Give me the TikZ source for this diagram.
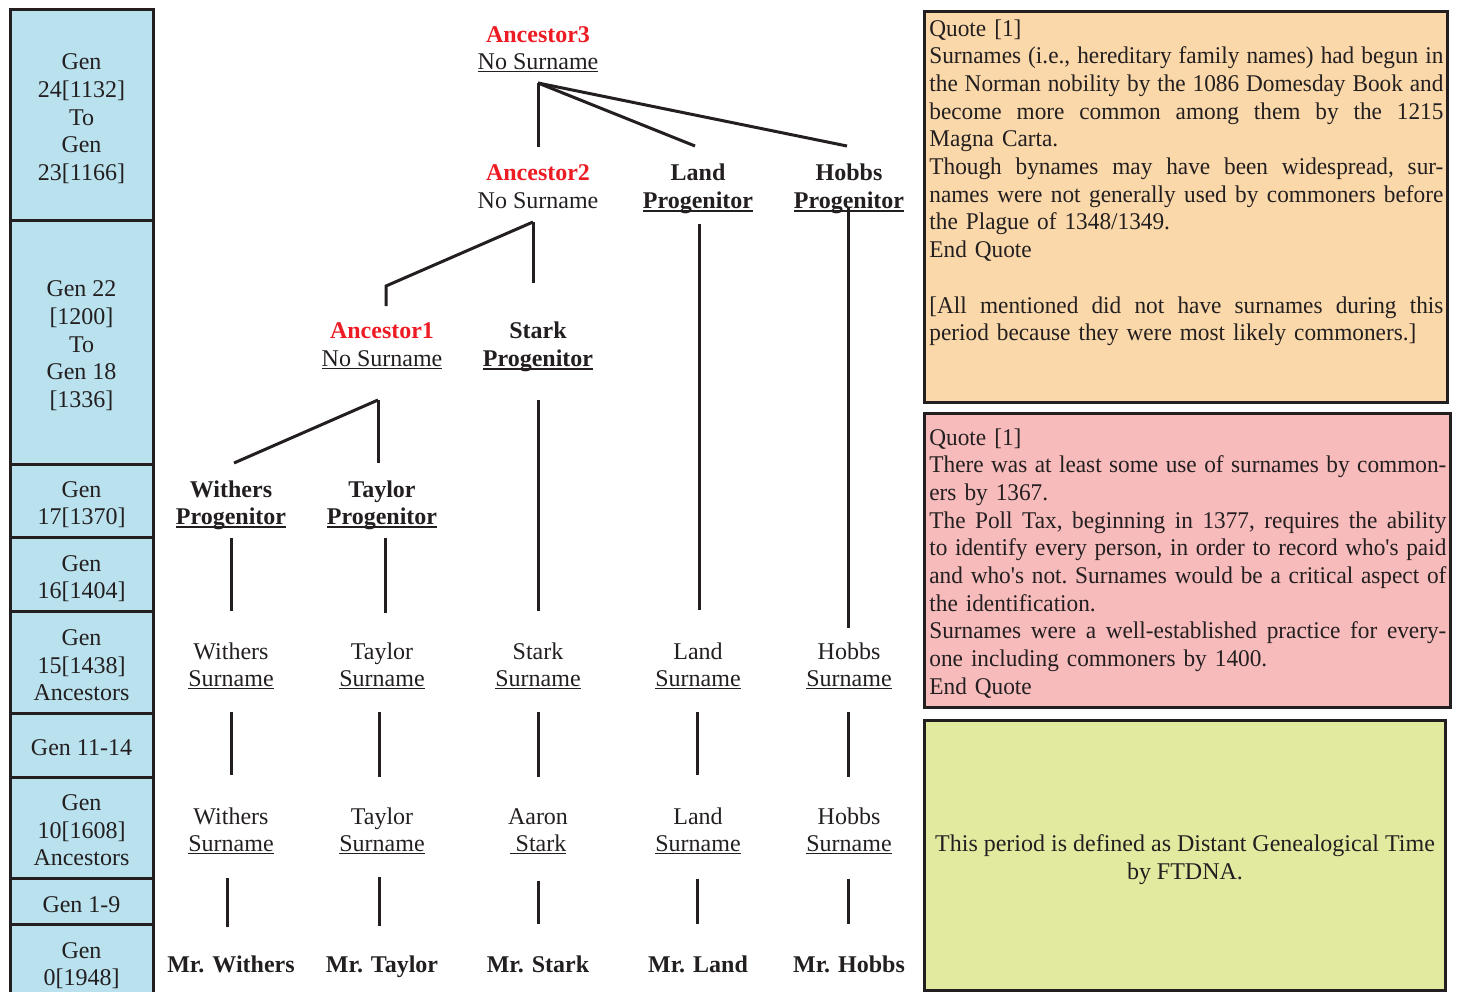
\documentclass[tikz,border=0pt]{standalone}
\usepackage{fontspec}
\setmainfont{Liberation Serif}
\newfontfamily\qfont[FakeStretch=0.97,Ligatures=TeXOff]{Liberation Serif}
\definecolor{gencol}{HTML}{B9E2EE}
\definecolor{orcol}{HTML}{FAD8A9}
\definecolor{pkcol}{HTML}{F7BBBB}
\definecolor{grcol}{HTML}{E2EAA0}
\definecolor{txt}{HTML}{231F20}
\definecolor{ancred}{HTML}{ED1C24}
\newcommand\fs{\fontsize{12}{13.85}\selectfont}
\newcommand\jl[1]{{\frenchspacing\spaceskip=0pt\xspaceskip=0pt\makebox[\hsize][s]{#1}}}
\newcommand\anc[1]{{\color{ancred}\bfseries #1}}
\newcommand\ul[1]{\setbox0=\hbox{#1}\rlap{\rule[-1.2pt]{\wd0}{0.6pt}}\box0}
\newcommand\ulb[1]{\setbox0=\hbox{\bfseries #1}\rlap{\rule[-1.6pt]{\wd0}{0.85pt}}\box0}
\newcommand\two[2]{\strut #1\\\strut #2}
\begin{document}
\begin{tikzpicture}[x=0.5pt,y=-0.5pt,
  lbl/.style={align=center, inner sep=0pt, font=\fs, text=txt},
  genlbl/.style={align=center, inner sep=0pt, font=\fs, text=txt},
  quote/.style={align=left, inner sep=0pt, font=\fs\qfont, text=txt, anchor=base west},
  border/.style={draw=txt, line width=1.5pt},
  conn/.style={draw=txt, line width=1.5pt}]
\useasboundingbox (0,0) rectangle (1457,992);

% ---- generation column
\fill[gencol] (10,9) rectangle (153,992);
\draw[border] (10,992) -- (10,9) -- (153,9) -- (153,992);
\foreach \yy in {220,464,537,611,713,777,878,924}
  \draw[border] (10,\yy) -- (153,\yy);
\node[genlbl] (g1) at (81.5,119.5) {\strut Gen\\\strut 24[1132]\\\strut To\\\strut Gen\\\strut 23[1166]};
\node[genlbl] (g2) at (81.5,346.5) {\strut Gen 22\\\strut{[1200]}\\\strut To\\\strut Gen 18\\\strut{[1336]}};
\node[genlbl] (g3) at (81.5,505.5) {\two{Gen}{17[1370]}};
\node[genlbl] (g4) at (81.5,579.5) {\two{Gen}{16[1404]}};
\node[genlbl] (g5) at (81.5,667.5) {\strut Gen\\\strut 15[1438]\\\strut Ancestors};
\node[genlbl] (g6) at (81.5,749.5) {\strut Gen 11-14};
\node[genlbl] (g7) at (81.5,832.5) {\strut Gen\\\strut 10[1608]\\\strut Ancestors};
\node[genlbl] (g8) at (81.5,906.5) {\strut Gen 1-9};
\node[genlbl] (g9) at (81.5,966.5) {\two{Gen}{0[1948]}};

% ---- quote boxes
\draw[border, fill=orcol] (924,11) rectangle (1447,402);
\node[quote, text width=257pt] (q1) at (929,36) {Quote [1]\\
\jl{Surnames (i.e., hereditary family names) had begun in}\\
\jl{the Norman nobility by the 1086 Domesday Book and}\\
\jl{become more common among them by the 1215}\\
Magna Carta.\\
\jl{Though bynames may have been widespread, sur-}\\
\jl{names were not generally used by commoners before}\\
the Plague of 1348/1349.\\
End Quote\\[13.85pt]
\jl{[All mentioned did not have surnames during this}\\
period because they were most likely commoners.]};

\draw[border, fill=pkcol] (924,413) rectangle (1450,707);
\node[quote, text width=258.5pt] (q2) at (929,445) {Quote [1]\\
\jl{There was at least some use of surnames by common-}\\
ers by 1367.\\
\jl{The Poll Tax, beginning in 1377, requires the ability}\\
\jl{to identify every person, in order to record who's paid}\\
\jl{and who's not. Surnames would be a critical aspect of}\\
the identification.\\
\jl{Surnames were a well-established practice for every-}\\
one including commoners by 1400.\\
End Quote};

\draw[border, fill=grcol] (924,720) rectangle (1445,990);
\node[lbl] (q3) at (1185,860) {\two{This period is defined as Distant Genealogical Time}{by FTDNA.}};

% ---- tree nodes
\node[lbl] (a3) at (538,50.5) {\two{\anc{Ancestor3}}{\ul{No Surname}}};
\node[lbl] (a2) at (538,189) {\two{\anc{Ancestor2}}{No Surname}};
\node[lbl] (lp) at (698,189) {\two{\textbf{Land}}{\ulb{Progenitor}}};
\node[lbl] (hp) at (849,189) {\two{\textbf{Hobbs}}{\ulb{Progenitor}}};
\node[lbl] (a1) at (382,347) {\two{\anc{Ancestor1}}{\ul{No Surname}}};
\node[lbl] (sp) at (538,347) {\two{\textbf{Stark}}{\ulb{Progenitor}}};
\node[lbl] (wp) at (231,505.5) {\two{\textbf{Withers}}{\ulb{Progenitor}}};
\node[lbl] (tp) at (382,505.5) {\two{\textbf{Taylor}}{\ulb{Progenitor}}};

\node[lbl] (ws1) at (231,667.5) {\two{Withers}{\ul{Surname}}};
\node[lbl] (ts1) at (382,667.5) {\two{Taylor}{\ul{Surname}}};
\node[lbl] (ss1) at (538,667.5) {\two{Stark}{\ul{Surname}}};
\node[lbl] (ls1) at (698,667.5) {\two{Land}{\ul{Surname}}};
\node[lbl] (hs1) at (849,667.5) {\two{Hobbs}{\ul{Surname}}};

\node[lbl] (ws2) at (231,832.5) {\two{Withers}{\ul{Surname}}};
\node[lbl] (ts2) at (382,832.5) {\two{Taylor}{\ul{Surname}}};
\node[lbl] (ss2) at (538,832.5) {\two{Aaron}{\ul{\ Stark}}};
\node[lbl] (ls2) at (698,832.5) {\two{Land}{\ul{Surname}}};
\node[lbl] (hs2) at (849,832.5) {\two{Hobbs}{\ul{Surname}}};

\node[lbl, font=\fs\bfseries] (wm) at (231,966.5) {\strut Mr. Withers};
\node[lbl, font=\fs\bfseries] (tm) at (382,966.5) {\strut Mr. Taylor};
\node[lbl, font=\fs\bfseries] (sm) at (538,966.5) {\strut Mr. Stark};
\node[lbl, font=\fs\bfseries] (lm) at (698,966.5) {\strut Mr. Land};
\node[lbl, font=\fs\bfseries] (hm) at (849,966.5) {\strut Mr. Hobbs};

% ---- connector end points
\coordinate (f3) at (538,83);
\coordinate (f3a) at (538,147);
\coordinate (f3b) at (695,146);
\coordinate (f3c) at (847,146);
\coordinate (f2) at (533,222);
\coordinate (f2a) at (533,283);
\coordinate (f2b) at (386,286);
\coordinate (f2c) at (386,306);
\coordinate (f1) at (378,400);
\coordinate (f1a) at (378,463);
\coordinate (f1b) at (234,463);
\coordinate (sv1) at (538,400);  \coordinate (sv2) at (538,611);
\coordinate (lv1) at (699,224);  \coordinate (lv2) at (699,610);
\coordinate (hv1) at (848,208);  \coordinate (hv2) at (848,628);
\coordinate (wv1) at (231,538);  \coordinate (wv2) at (231,611);
\coordinate (tv1) at (385,538);  \coordinate (tv2) at (385,613);
\coordinate (m1a) at (231,712);  \coordinate (m1b) at (231,775);
\coordinate (m2a) at (379,712);  \coordinate (m2b) at (379,777);
\coordinate (m3a) at (538,712);  \coordinate (m3b) at (538,777);
\coordinate (m4a) at (697,712);  \coordinate (m4b) at (697,775);
\coordinate (m5a) at (848,712);  \coordinate (m5b) at (848,777);
\coordinate (b1a) at (227,878);  \coordinate (b1b) at (227,927);
\coordinate (b2a) at (379,877);  \coordinate (b2b) at (379,926);
\coordinate (b3a) at (538,881);  \coordinate (b3b) at (538,924);
\coordinate (b4a) at (697,879);  \coordinate (b4b) at (697,924);
\coordinate (b5a) at (848,879);  \coordinate (b5b) at (848,924);

% ---- connectors
\draw[conn] (f3) -- (f3a);
\draw[conn] (f3) -- (f3b);
\draw[conn] (f3) -- (f3c);
\draw[conn] (f2) -- (f2a);
\draw[conn] (f2) -- (f2b) -- (f2c);
\draw[conn] (f1) -- (f1a);
\draw[conn] (f1) -- (f1b);
\draw[conn] (sv1) -- (sv2);
\draw[conn] (lv1) -- (lv2);
\draw[conn] (hv1) -- (hv2);
\draw[conn] (wv1) -- (wv2);
\draw[conn] (tv1) -- (tv2);
\foreach \i in {1,...,5} {
  \draw[conn] (m\i a) -- (m\i b);
  \draw[conn] (b\i a) -- (b\i b);
}
\end{tikzpicture}
\end{document}
